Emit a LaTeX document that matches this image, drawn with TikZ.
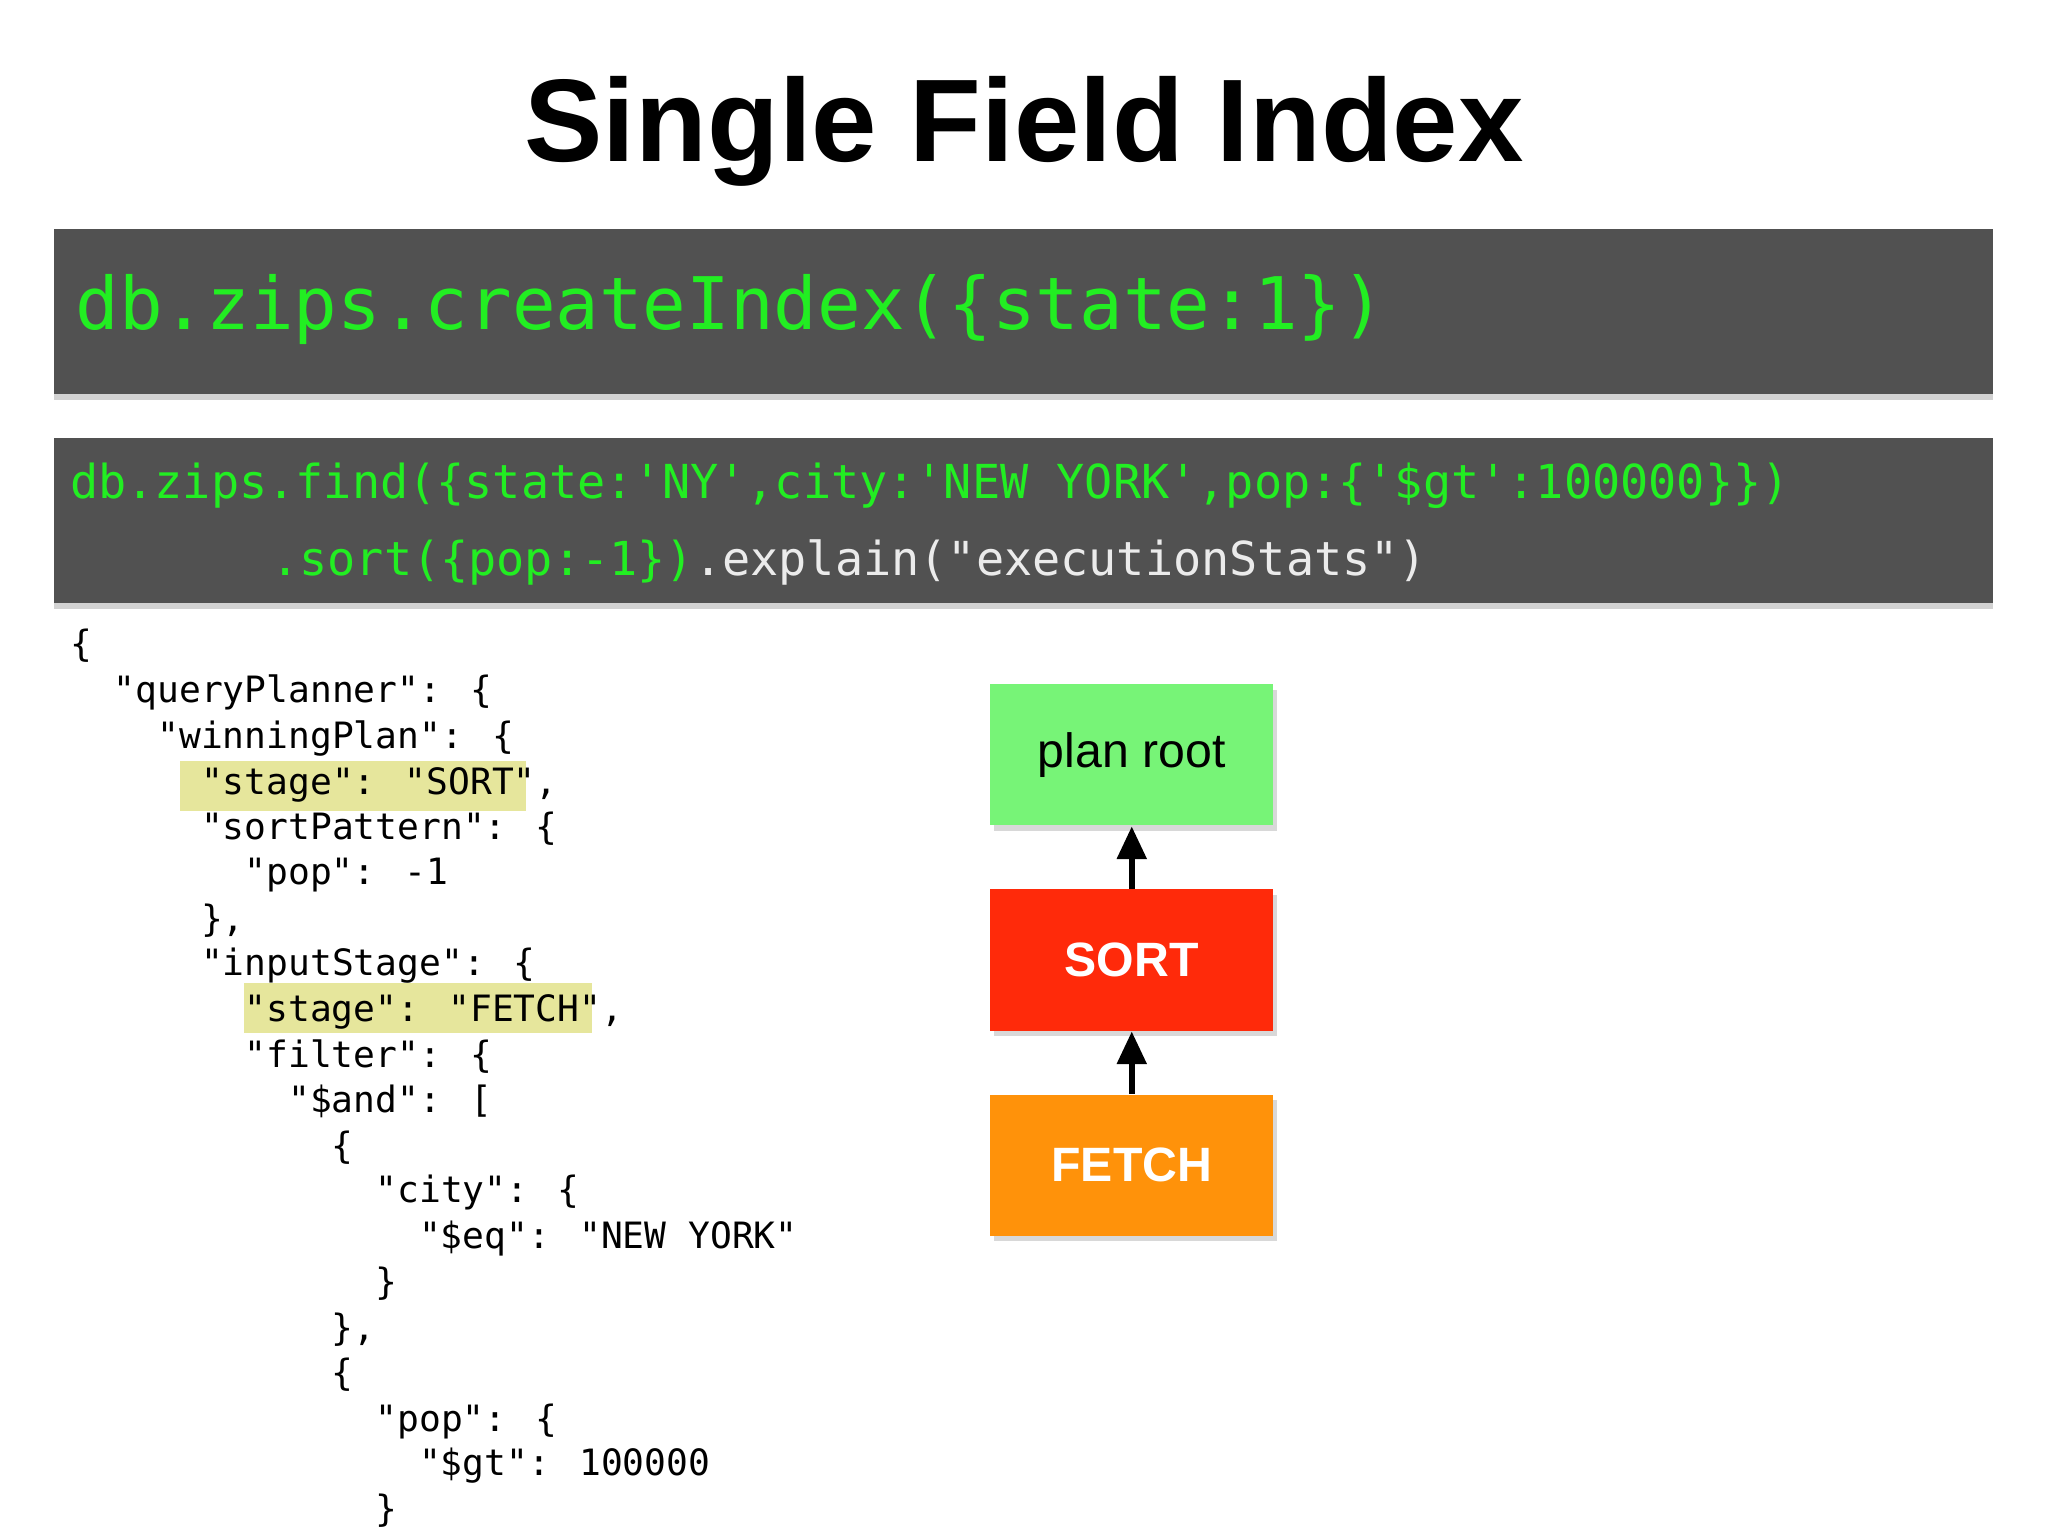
\documentclass[tikz,border=0pt]{standalone}
\usepackage{fontspec}
\setmainfont{Liberation Sans}
\newfontfamily\code{DejaVu Sans Mono}
\usetikzlibrary{shadows,arrows.meta}
\definecolor{cbg}{HTML}{515151}
\definecolor{cgreen}{HTML}{22EE22}
\definecolor{hl}{HTML}{E6E69C}
\definecolor{nroot}{HTML}{77F477}
\definecolor{nsort}{HTML}{FF2A0A}
\definecolor{nfetch}{HTML}{FF920A}
\tikzset{
  codebox/.style={fill=cbg, draw=none, drop shadow={shadow xshift=0pt,shadow yshift=-0.4mm,opacity=0.35}},
  js/.style={anchor=base west, inner sep=0pt, font=\code\fontsize{7.9pt}{9pt}\selectfont},
  plannode/.style={minimum width=2.17cm, minimum height=1.08cm, inner sep=0pt, draw=none,
     drop shadow={shadow xshift=0.3mm,shadow yshift=-0.4mm,opacity=0.3}},
  up/.style={-{Triangle[length=2.5mm,width=2.2mm]}, line width=1.3pt}
}
\begin{document}
\begin{tikzpicture}
\useasboundingbox[fill=white] (0,0) rectangle (15.68,11.76);
% title
\node[anchor=base, font=\bfseries\fontsize{25.6pt}{30pt}\selectfont] (title) at (7.84,10.52) {Single Field Index};
% box 1
\path[codebox] (0.41,8.74) rectangle (15.26,10.01);
\node[anchor=base west, inner sep=0pt, text=cgreen, font=\code\fontsize{15.8pt}{18pt}\selectfont] (ci) at (0.57,9.24) {db.zips.createIndex(\{state:1\})};
% box 2
\path[codebox] (0.41,7.14) rectangle (15.26,8.41);
\node[anchor=base west, inner sep=0pt, text=cgreen, font=\code\fontsize{10.2pt}{12pt}\selectfont] (f1) at (0.53,7.94) {db.zips.find(\{state:'NY',city:'NEW YORK',pop:\{'\$gt':100000\}\})};
\node[anchor=base west, inner sep=0pt, font=\code\fontsize{10.2pt}{12pt}\selectfont] (f2) at (2.07,7.35) {\textcolor{cgreen}{.sort(\{pop:-1\})}\textcolor{white!92!black}{.explain("executionStats")}};
% highlights
\fill[hl] (1.38,5.55) rectangle (4.03,5.93);
\fill[hl] (1.87,3.85) rectangle (4.53,4.23);
% json
\def\cw{0.167}
\foreach \ind/\yy/\t in {
 0/4.94/\{,
 2/5.29/"queryPlanner": \{,
 4/5.64/"winningPlan": \{,
 6/5.99/"stage": "SORT"\char`\,,
 6/6.34/"sortPattern": \{,
 8/6.68/"pop": -1,
 6/7.04/\}\char`\,,
 6/7.38/"inputStage": \{,
 8/7.73/"stage": "FETCH"\char`\,,
 8/8.08/"filter": \{,
 10/8.43/"\$and": [,
 12/8.78/\{,
 14/9.12/"city": \{,
 16/9.47/"\$eq": "NEW YORK",
 14/9.82/\},
 12/10.17/\}\char`\,,
 12/10.52/\{,
 14/10.87/"pop": \{,
 16/11.21/"\$gt": 100000,
 14/11.56/\}}
{\node[js] at ({0.53+\ind*\cw},{11.76-\yy-0.09}) {\t};}
% plan nodes
\node[plannode, fill=nroot, font=\fontsize{10.5pt}{12pt}\selectfont] (root) at (8.665,5.98) {plan root};
\node[plannode, fill=nsort, text=white, font=\bfseries\fontsize{10.5pt}{12pt}\selectfont] (sort) at (8.665,4.41) {SORT};
\node[plannode, fill=nfetch, text=white, font=\bfseries\fontsize{10.5pt}{12pt}\selectfont] (fetch) at (8.665,2.84) {FETCH};
\draw[up] (sort) -- (root);
\draw[up] (fetch) -- (sort);
\end{tikzpicture}
\end{document}
